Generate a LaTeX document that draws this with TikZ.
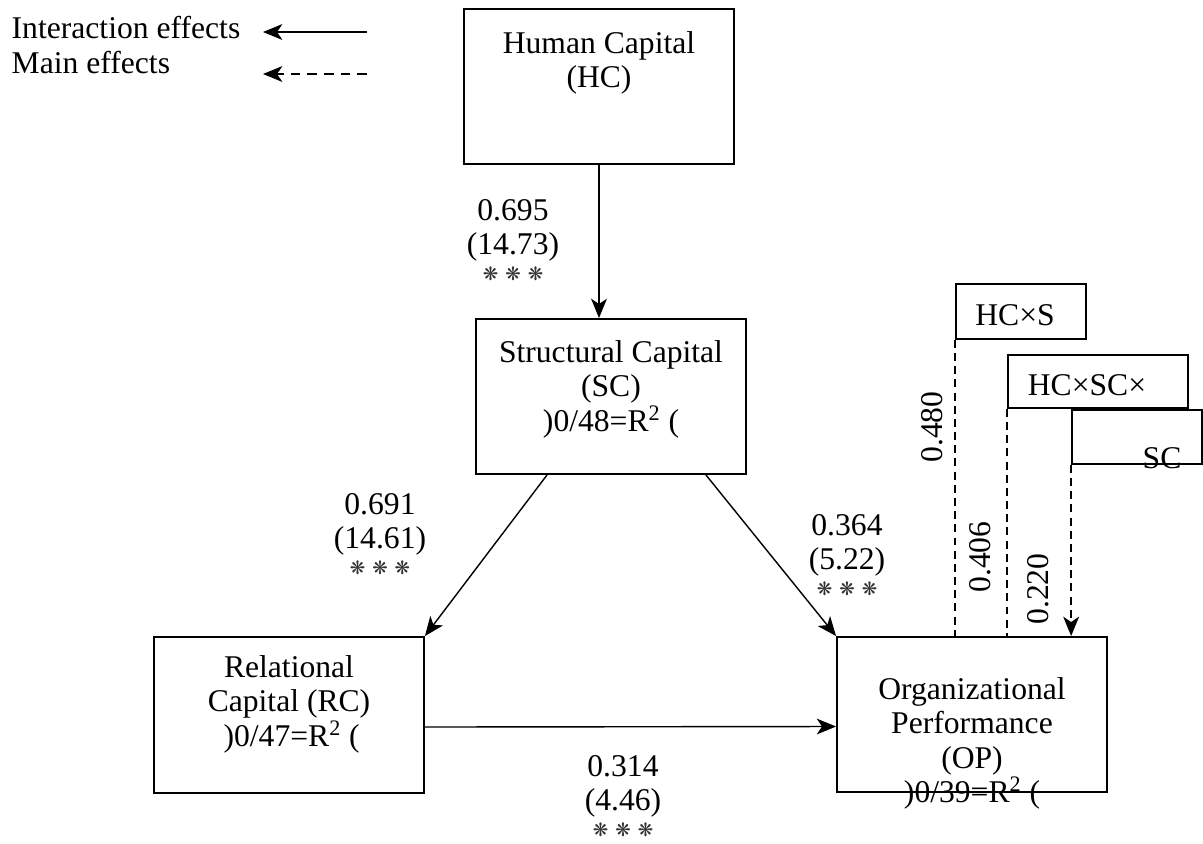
\documentclass[tikz,border=0pt]{standalone}
\usepackage{fontspec}
\setmainfont{Liberation Serif}
\newfontfamily\dingfont{DejaVu Sans}
\usetikzlibrary{arrows.meta,positioning}

% three significance stars
\newcommand{\sigstars}{{\dingfont\fontsize{10.5}{10.5}\selectfont\color{black!80}❋\hspace{4pt}❋\hspace{4pt}❋}}

\tikzset{
  box/.style={draw, line width=1.1pt, inner sep=0pt, minimum width=5.4cm, minimum height=3.1cm},
  ibox/.style={draw, line width=1pt, inner sep=0pt, minimum height=1.08cm},
  txt/.style={align=center, inner sep=0pt},
  main/.style={line width=0.85pt, dash pattern=on 4.5pt off 3pt},
}

\begin{document}
\begin{tikzpicture}[x=0.02cm, y=-0.02cm, font=\fontsize{18}{19.5}\selectfont, >={Stealth[length=11pt,width=9pt,inset=3pt]}, line width=0.8pt]
    \useasboundingbox (0,0) rectangle (1203,843);
    % legend
    \node[anchor=west, inner sep=0pt] (lint) at (11,28) {Interaction effects};
    \node[anchor=west, inner sep=0pt] (lmain) at (11,63) {Main effects};
    \coordinate (la1) at (367,32);
    \coordinate (lb1) at (263,32);
    \coordinate (la2) at (367,74);
    \coordinate (lb2) at (263,74);
    \draw[->] (la1) -- (lb1);
    \draw[->, main, dash pattern=on 5.5pt off 4pt] (la2) -- (lb2);
    % constructs
    \node[box] (hc) at (599,86.5) {};
    \node[box] (sc) at (611,396.5) {};
    \node[box, minimum height=3.12cm] (rc) at (289,715) {};
    \node[box] (op) at (972,714.5) {};
    \node[txt, below=0.46cm of hc.north] (hctxt) {Human Capital\\(HC)};
    \node[txt, below=0.44cm of sc.north] (sctxt) {Structural Capital\\(SC)\\)0/48=R\textsuperscript{2} (};
    \node[txt, below=0.38cm of rc.north] (rctxt) {Relational\\Capital (RC)\\\,)0/47=R\textsuperscript{2} (};
    \node[txt, below=0.82cm of op.north] (optxt) {Organizational\\Performance\\(OP)\\)0/39=R\textsuperscript{2} (};
    % interaction terms
    \node[ibox, minimum width=2.6cm, minimum height=1.1cm] (hcs) at (1021,311.5) {};
    \node[ibox, minimum width=3.6cm, minimum height=1.06cm] (hcsc) at (1098,381.5) {};
    \node[ibox, minimum width=2.6cm] (scx) at (1137,437) {};
    \node[inner sep=0pt] (hcstxt) at (1015,315) {HC×S};
    \node[inner sep=0pt] (hcsctxt) at (1087,385) {HC×SC×};
    \node[inner sep=0pt] (scxtxt) at (1162,458) {SC};
    % paths
    \draw[->] (hc.south) -- (hc.south |- sc.north);
    \draw[->] ([xshift=1.44cm]sc.south west) -- (rc.north east);
    \draw[->] ([xshift=-0.82cm]sc.south east) -- (op.north west);
    \draw[->] ([yshift=-0.24cm]rc.east) -- ([yshift=-0.24cm]op.west);
    \draw[main] (hcs.south west) -- (hcs.south west |- op.north);
    \draw[main] (hcsc.south west) -- (hcsc.south west |- op.north);
    \draw[main, ->] (scx.south west) -- (scx.south west |- op.north);
    % coefficients
    \node[txt] (c1) at (513,240) {0.695\\(14.73)\\[-5pt]\sigstars};
    \node[txt] (c2) at (380,534) {0.691\\(14.61)\\[-5pt]\sigstars};
    \node[txt] (c3) at (847,555) {0.364\\(5.22)\\[-5pt]\sigstars};
    \node[txt] (c4) at (623,796) {0.314\\(4.46)\\[-5pt]\sigstars};
    \node[rotate=90, inner sep=0pt] (c5) at (932,427) {0.480};
    \node[rotate=90, inner sep=0pt] (c6) at (980,557) {0.406};
    \node[rotate=90, inner sep=0pt] (c7) at (1038,589) {0.220};
\end{tikzpicture}
\end{document}
